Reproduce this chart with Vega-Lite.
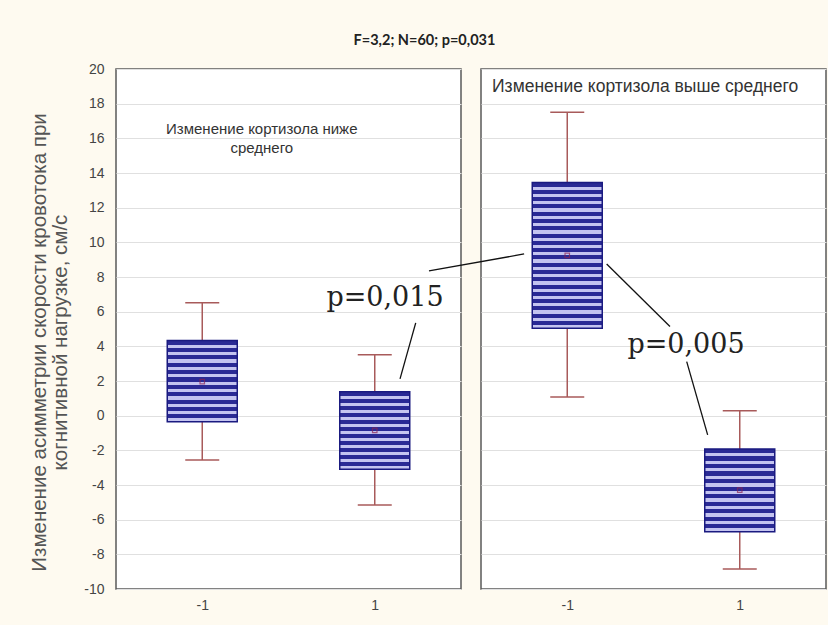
{
  "$schema": "https://vega.github.io/schema/vega-lite/v6.json",
  "autosize": {"type": "none"},
  "padding": {"left": 116, "top": 69, "right": 712, "bottom": 556},
  "background": "#fefaf0",
  "bounds": "flush",
  "title": {"text": "F=3,2; N=60; p=0,031", "font": "Lato", "fontSize": 14.5, "fontWeight": "bold", "color": "#222222", "anchor": "middle", "dx": -3, "offset": 13},
  "config": {
    "view": {"stroke": "#5a5a5a", "strokeWidth": 1.5, "fill": "white"},
    "axis": {"grid": true, "gridColor": "#e0e0e0", "gridWidth": 1.2, "domain": false, "ticks": false, "labelFont": "Liberation Sans", "labelFontSize": 14, "labelColor": "#444444", "labelOverlap": false, "labelExpr": "replace(datum.label, '−', '-')"}
  },
  "datasets": {
    "boxes": [
      {"panel": "low", "grp": -1, "wlo": -2.56, "q1": -0.35, "mean": 1.96, "q3": 4.33, "whi": 6.52},
      {"panel": "low", "grp": 1, "wlo": -5.15, "q1": -3.09, "mean": -0.85, "q3": 1.38, "whi": 3.52},
      {"panel": "high", "grp": -1, "wlo": 1.08, "q1": 5.04, "mean": 9.25, "q3": 13.45, "whi": 17.5},
      {"panel": "high", "grp": 1, "wlo": -8.85, "q1": -6.69, "mean": -4.3, "q3": -1.92, "whi": 0.29}
    ],
    "headers": [
      {"panel": "low", "x": -0.31, "y": 16.55, "label": "Изменение кортизола ниже\nсреднего"},
      {"panel": "high", "x": -1.872, "y": 18.97, "label": "Изменение кортизола выше среднего"}
    ],
    "pvals": [
      {"panel": "low", "x": 1.119, "y": 6.79, "label": "p=0,015"},
      {"panel": "high", "x": 0.377, "y": 4.08, "label": "p=0,005"}
    ],
    "lines": [
      {"panel": "low", "x": 1.475, "y": 5.35, "x2": 1.293, "y2": 2.12},
      {"panel": "high", "x": -2.603, "y": 8.35, "x2": -1.5, "y2": 9.33},
      {"panel": "high", "x": -0.543, "y": 8.75, "x2": 0.191, "y2": 5.14},
      {"panel": "high", "x": 0.385, "y": 3.12, "x2": 0.628, "y2": -1.11}
    ]
  },
  "spacing": 20,
  "hconcat": [
    {
      "width": 345,
      "height": 520,
      "encoding": {
        "x": {"field": "grp", "type": "quantitative", "scale": {"domain": [-2, 2], "nice": false}, "axis": {"values": [-1, 1], "grid": false, "title": null, "labelPadding": 9}}
      },
      "layer": [
        {
          "data": {"name": "boxes"},
          "transform": [{"filter": "datum.panel == 'low'"}],
          "layer": [
            {
              "mark": {"type": "rule", "color": "#a85a5a", "strokeWidth": 1.5},
              "encoding": {
                "y": {"field": "wlo", "type": "quantitative", "scale": {"domain": [-10, 20], "nice": false},
                  "axis": {"values": [-10, -8, -6, -4, -2, 0, 2, 4, 6, 8, 10, 12, 14, 16, 18, 20], "tickCount": 30, "labelPadding": 12,
                    "title": ["Изменение асимметрии скорости кровотока при", "когнитивной нагрузке, см/с"],
                    "titleFont": "Liberation Sans", "titleFontSize": 20.5, "titleFontWeight": "normal", "titleColor": "#555555",
                    "titleAngle": -90, "titleAlign": "center", "titleBaseline": "middle", "titleLineHeight": 21, "titleX": -77, "titleY": 273}},
                "y2": {"field": "whi"}
              }
            },
            {
              "mark": {"type": "rule", "color": "#a85a5a", "strokeWidth": 1.5, "xOffset": -17, "x2Offset": 17},
              "encoding": {"x2": {"field": "grp"}, "y": {"field": "whi", "type": "quantitative"}}
            },
            {
              "mark": {"type": "rule", "color": "#a85a5a", "strokeWidth": 1.5, "xOffset": -17, "x2Offset": 17},
              "encoding": {"x2": {"field": "grp"}, "y": {"field": "wlo", "type": "quantitative"}}
            },
            {
              "mark": {"type": "rect", "stroke": "#1a1a80", "strokeWidth": 1.5, "xOffset": -35, "x2Offset": 35,
                "fill": {"gradient": "linear", "x1": 0, "y1": 0, "x2": 0, "y2": 1, "stops": [
                  {"offset": 0, "color": "#2a2a95"}, {"offset": 0.05, "color": "#2a2a95"}, {"offset": 0.05, "color": "#c4c4f0"}, {"offset": 0.0909, "color": "#c4c4f0"},
                  {"offset": 0.0909, "color": "#2a2a95"}, {"offset": 0.1409, "color": "#2a2a95"}, {"offset": 0.1409, "color": "#c4c4f0"}, {"offset": 0.1818, "color": "#c4c4f0"},
                  {"offset": 0.1818, "color": "#2a2a95"}, {"offset": 0.2318, "color": "#2a2a95"}, {"offset": 0.2318, "color": "#c4c4f0"}, {"offset": 0.2727, "color": "#c4c4f0"},
                  {"offset": 0.2727, "color": "#2a2a95"}, {"offset": 0.3227, "color": "#2a2a95"}, {"offset": 0.3227, "color": "#c4c4f0"}, {"offset": 0.3636, "color": "#c4c4f0"},
                  {"offset": 0.3636, "color": "#2a2a95"}, {"offset": 0.4136, "color": "#2a2a95"}, {"offset": 0.4136, "color": "#c4c4f0"}, {"offset": 0.4545, "color": "#c4c4f0"},
                  {"offset": 0.4545, "color": "#2a2a95"}, {"offset": 0.5045, "color": "#2a2a95"}, {"offset": 0.5045, "color": "#c4c4f0"}, {"offset": 0.5455, "color": "#c4c4f0"},
                  {"offset": 0.5455, "color": "#2a2a95"}, {"offset": 0.5955, "color": "#2a2a95"}, {"offset": 0.5955, "color": "#c4c4f0"}, {"offset": 0.6364, "color": "#c4c4f0"},
                  {"offset": 0.6364, "color": "#2a2a95"}, {"offset": 0.6864, "color": "#2a2a95"}, {"offset": 0.6864, "color": "#c4c4f0"}, {"offset": 0.7273, "color": "#c4c4f0"},
                  {"offset": 0.7273, "color": "#2a2a95"}, {"offset": 0.7773, "color": "#2a2a95"}, {"offset": 0.7773, "color": "#c4c4f0"}, {"offset": 0.8182, "color": "#c4c4f0"},
                  {"offset": 0.8182, "color": "#2a2a95"}, {"offset": 0.8682, "color": "#2a2a95"}, {"offset": 0.8682, "color": "#c4c4f0"}, {"offset": 0.9091, "color": "#c4c4f0"},
                  {"offset": 0.9091, "color": "#2a2a95"}, {"offset": 0.9591, "color": "#2a2a95"}, {"offset": 0.9591, "color": "#c4c4f0"}, {"offset": 1, "color": "#c4c4f0"}
                ]}},
              "encoding": {"x2": {"field": "grp"}, "y": {"field": "q1", "type": "quantitative"}, "y2": {"field": "q3"}}
            },
            {
              "mark": {"type": "point", "shape": "square", "size": 20, "filled": false, "stroke": "#8b2252", "strokeWidth": 1.2},
              "encoding": {"y": {"field": "mean", "type": "quantitative"}}
            }
          ]
        },
        {
          "data": {"name": "headers"},
          "transform": [{"filter": "datum.panel == 'low'"}],
          "mark": {"type": "text", "font": "Liberation Sans", "fontSize": 15, "color": "#333333", "align": "center", "baseline": "middle", "lineBreak": "\n", "lineHeight": 19},
          "encoding": {"x": {"field": "x", "type": "quantitative"}, "y": {"field": "y", "type": "quantitative"}, "text": {"field": "label"}}
        },
        {
          "data": {"name": "pvals"},
          "transform": [{"filter": "datum.panel == 'low'"}],
          "mark": {"type": "text", "font": "DejaVu Serif", "fontSize": 27, "color": "#222222", "align": "center", "baseline": "middle"},
          "encoding": {"x": {"field": "x", "type": "quantitative"}, "y": {"field": "y", "type": "quantitative"}, "text": {"field": "label"}}
        },
        {
          "data": {"name": "lines"},
          "transform": [{"filter": "datum.panel == 'low'"}],
          "mark": {"type": "rule", "color": "#111111", "strokeWidth": 1.3},
          "encoding": {"x": {"field": "x", "type": "quantitative"}, "y": {"field": "y", "type": "quantitative"}, "x2": {"field": "x2"}, "y2": {"field": "y2"}}
        }
      ]
    },
    {
      "width": 345,
      "height": 520,
      "encoding": {
        "x": {"field": "grp", "type": "quantitative", "scale": {"domain": [-2, 2], "nice": false}, "axis": {"values": [-1, 1], "grid": false, "title": null, "labelPadding": 9}}
      },
      "layer": [
        {
          "data": {"name": "boxes"},
          "transform": [{"filter": "datum.panel == 'high'"}],
          "layer": [
            {
              "mark": {"type": "rule", "color": "#a85a5a", "strokeWidth": 1.5},
              "encoding": {
                "y": {"field": "wlo", "type": "quantitative", "scale": {"domain": [-10, 20], "nice": false},
                  "axis": {"values": [-10, -8, -6, -4, -2, 0, 2, 4, 6, 8, 10, 12, 14, 16, 18, 20], "tickCount": 30, "labels": false, "title": null, "minExtent": 0, "maxExtent": 0, "labelPadding": 0}},
                "y2": {"field": "whi"}
              }
            },
            {
              "mark": {"type": "rule", "color": "#a85a5a", "strokeWidth": 1.5, "xOffset": -17, "x2Offset": 17},
              "encoding": {"x2": {"field": "grp"}, "y": {"field": "whi", "type": "quantitative"}}
            },
            {
              "mark": {"type": "rule", "color": "#a85a5a", "strokeWidth": 1.5, "xOffset": -17, "x2Offset": 17},
              "encoding": {"x2": {"field": "grp"}, "y": {"field": "wlo", "type": "quantitative"}}
            },
            {
              "transform": [{"filter": "datum.grp == 1"}],
              "mark": {"type": "rect", "stroke": "#1a1a80", "strokeWidth": 1.5, "xOffset": -35, "x2Offset": 35,
                "fill": {"gradient": "linear", "x1": 0, "y1": 0, "x2": 0, "y2": 1, "stops": [
                  {"offset": 0, "color": "#2a2a95"}, {"offset": 0.05, "color": "#2a2a95"}, {"offset": 0.05, "color": "#c4c4f0"}, {"offset": 0.0909, "color": "#c4c4f0"},
                  {"offset": 0.0909, "color": "#2a2a95"}, {"offset": 0.1409, "color": "#2a2a95"}, {"offset": 0.1409, "color": "#c4c4f0"}, {"offset": 0.1818, "color": "#c4c4f0"},
                  {"offset": 0.1818, "color": "#2a2a95"}, {"offset": 0.2318, "color": "#2a2a95"}, {"offset": 0.2318, "color": "#c4c4f0"}, {"offset": 0.2727, "color": "#c4c4f0"},
                  {"offset": 0.2727, "color": "#2a2a95"}, {"offset": 0.3227, "color": "#2a2a95"}, {"offset": 0.3227, "color": "#c4c4f0"}, {"offset": 0.3636, "color": "#c4c4f0"},
                  {"offset": 0.3636, "color": "#2a2a95"}, {"offset": 0.4136, "color": "#2a2a95"}, {"offset": 0.4136, "color": "#c4c4f0"}, {"offset": 0.4545, "color": "#c4c4f0"},
                  {"offset": 0.4545, "color": "#2a2a95"}, {"offset": 0.5045, "color": "#2a2a95"}, {"offset": 0.5045, "color": "#c4c4f0"}, {"offset": 0.5455, "color": "#c4c4f0"},
                  {"offset": 0.5455, "color": "#2a2a95"}, {"offset": 0.5955, "color": "#2a2a95"}, {"offset": 0.5955, "color": "#c4c4f0"}, {"offset": 0.6364, "color": "#c4c4f0"},
                  {"offset": 0.6364, "color": "#2a2a95"}, {"offset": 0.6864, "color": "#2a2a95"}, {"offset": 0.6864, "color": "#c4c4f0"}, {"offset": 0.7273, "color": "#c4c4f0"},
                  {"offset": 0.7273, "color": "#2a2a95"}, {"offset": 0.7773, "color": "#2a2a95"}, {"offset": 0.7773, "color": "#c4c4f0"}, {"offset": 0.8182, "color": "#c4c4f0"},
                  {"offset": 0.8182, "color": "#2a2a95"}, {"offset": 0.8682, "color": "#2a2a95"}, {"offset": 0.8682, "color": "#c4c4f0"}, {"offset": 0.9091, "color": "#c4c4f0"},
                  {"offset": 0.9091, "color": "#2a2a95"}, {"offset": 0.9591, "color": "#2a2a95"}, {"offset": 0.9591, "color": "#c4c4f0"}, {"offset": 1, "color": "#c4c4f0"}
                ]}},
              "encoding": {"x2": {"field": "grp"}, "y": {"field": "q1", "type": "quantitative"}, "y2": {"field": "q3"}}
            },
            {
              "transform": [{"filter": "datum.grp == -1"}],
              "mark": {"type": "rect", "stroke": "#1a1a80", "strokeWidth": 1.5, "xOffset": -35, "x2Offset": 35,
                "fill": {"gradient": "linear", "x1": 0, "y1": 0, "x2": 0, "y2": 1, "stops": [
                  {"offset": 0, "color": "#2a2a95"}, {"offset": 0.0275, "color": "#2a2a95"}, {"offset": 0.0275, "color": "#c4c4f0"}, {"offset": 0.05, "color": "#c4c4f0"},
                  {"offset": 0.05, "color": "#2a2a95"}, {"offset": 0.0775, "color": "#2a2a95"}, {"offset": 0.0775, "color": "#c4c4f0"}, {"offset": 0.1, "color": "#c4c4f0"},
                  {"offset": 0.1, "color": "#2a2a95"}, {"offset": 0.1275, "color": "#2a2a95"}, {"offset": 0.1275, "color": "#c4c4f0"}, {"offset": 0.15, "color": "#c4c4f0"},
                  {"offset": 0.15, "color": "#2a2a95"}, {"offset": 0.1775, "color": "#2a2a95"}, {"offset": 0.1775, "color": "#c4c4f0"}, {"offset": 0.2, "color": "#c4c4f0"},
                  {"offset": 0.2, "color": "#2a2a95"}, {"offset": 0.2275, "color": "#2a2a95"}, {"offset": 0.2275, "color": "#c4c4f0"}, {"offset": 0.25, "color": "#c4c4f0"},
                  {"offset": 0.25, "color": "#2a2a95"}, {"offset": 0.2775, "color": "#2a2a95"}, {"offset": 0.2775, "color": "#c4c4f0"}, {"offset": 0.3, "color": "#c4c4f0"},
                  {"offset": 0.3, "color": "#2a2a95"}, {"offset": 0.3275, "color": "#2a2a95"}, {"offset": 0.3275, "color": "#c4c4f0"}, {"offset": 0.35, "color": "#c4c4f0"},
                  {"offset": 0.35, "color": "#2a2a95"}, {"offset": 0.3775, "color": "#2a2a95"}, {"offset": 0.3775, "color": "#c4c4f0"}, {"offset": 0.4, "color": "#c4c4f0"},
                  {"offset": 0.4, "color": "#2a2a95"}, {"offset": 0.4275, "color": "#2a2a95"}, {"offset": 0.4275, "color": "#c4c4f0"}, {"offset": 0.45, "color": "#c4c4f0"},
                  {"offset": 0.45, "color": "#2a2a95"}, {"offset": 0.4775, "color": "#2a2a95"}, {"offset": 0.4775, "color": "#c4c4f0"}, {"offset": 0.5, "color": "#c4c4f0"},
                  {"offset": 0.5, "color": "#2a2a95"}, {"offset": 0.5275, "color": "#2a2a95"}, {"offset": 0.5275, "color": "#c4c4f0"}, {"offset": 0.55, "color": "#c4c4f0"},
                  {"offset": 0.55, "color": "#2a2a95"}, {"offset": 0.5775, "color": "#2a2a95"}, {"offset": 0.5775, "color": "#c4c4f0"}, {"offset": 0.6, "color": "#c4c4f0"},
                  {"offset": 0.6, "color": "#2a2a95"}, {"offset": 0.6275, "color": "#2a2a95"}, {"offset": 0.6275, "color": "#c4c4f0"}, {"offset": 0.65, "color": "#c4c4f0"},
                  {"offset": 0.65, "color": "#2a2a95"}, {"offset": 0.6775, "color": "#2a2a95"}, {"offset": 0.6775, "color": "#c4c4f0"}, {"offset": 0.7, "color": "#c4c4f0"},
                  {"offset": 0.7, "color": "#2a2a95"}, {"offset": 0.7275, "color": "#2a2a95"}, {"offset": 0.7275, "color": "#c4c4f0"}, {"offset": 0.75, "color": "#c4c4f0"},
                  {"offset": 0.75, "color": "#2a2a95"}, {"offset": 0.7775, "color": "#2a2a95"}, {"offset": 0.7775, "color": "#c4c4f0"}, {"offset": 0.8, "color": "#c4c4f0"},
                  {"offset": 0.8, "color": "#2a2a95"}, {"offset": 0.8275, "color": "#2a2a95"}, {"offset": 0.8275, "color": "#c4c4f0"}, {"offset": 0.85, "color": "#c4c4f0"},
                  {"offset": 0.85, "color": "#2a2a95"}, {"offset": 0.8775, "color": "#2a2a95"}, {"offset": 0.8775, "color": "#c4c4f0"}, {"offset": 0.9, "color": "#c4c4f0"},
                  {"offset": 0.9, "color": "#2a2a95"}, {"offset": 0.9275, "color": "#2a2a95"}, {"offset": 0.9275, "color": "#c4c4f0"}, {"offset": 0.95, "color": "#c4c4f0"},
                  {"offset": 0.95, "color": "#2a2a95"}, {"offset": 0.9775, "color": "#2a2a95"}, {"offset": 0.9775, "color": "#c4c4f0"}, {"offset": 1, "color": "#c4c4f0"}
                ]}},
              "encoding": {"x2": {"field": "grp"}, "y": {"field": "q1", "type": "quantitative"}, "y2": {"field": "q3"}}
            },
            {
              "mark": {"type": "point", "shape": "square", "size": 20, "filled": false, "stroke": "#8b2252", "strokeWidth": 1.2},
              "encoding": {"y": {"field": "mean", "type": "quantitative"}}
            }
          ]
        },
        {
          "data": {"name": "headers"},
          "transform": [{"filter": "datum.panel == 'high'"}],
          "mark": {"type": "text", "font": "Liberation Sans", "fontSize": 17.5, "color": "#333333", "align": "left", "baseline": "middle"},
          "encoding": {"x": {"field": "x", "type": "quantitative"}, "y": {"field": "y", "type": "quantitative"}, "text": {"field": "label"}}
        },
        {
          "data": {"name": "pvals"},
          "transform": [{"filter": "datum.panel == 'high'"}],
          "mark": {"type": "text", "font": "DejaVu Serif", "fontSize": 27, "color": "#222222", "align": "center", "baseline": "middle"},
          "encoding": {"x": {"field": "x", "type": "quantitative"}, "y": {"field": "y", "type": "quantitative"}, "text": {"field": "label"}}
        },
        {
          "data": {"name": "lines"},
          "transform": [{"filter": "datum.panel == 'high'"}],
          "mark": {"type": "rule", "color": "#111111", "strokeWidth": 1.3},
          "encoding": {"x": {"field": "x", "type": "quantitative"}, "y": {"field": "y", "type": "quantitative"}, "x2": {"field": "x2"}, "y2": {"field": "y2"}}
        }
      ]
    }
  ]
}
